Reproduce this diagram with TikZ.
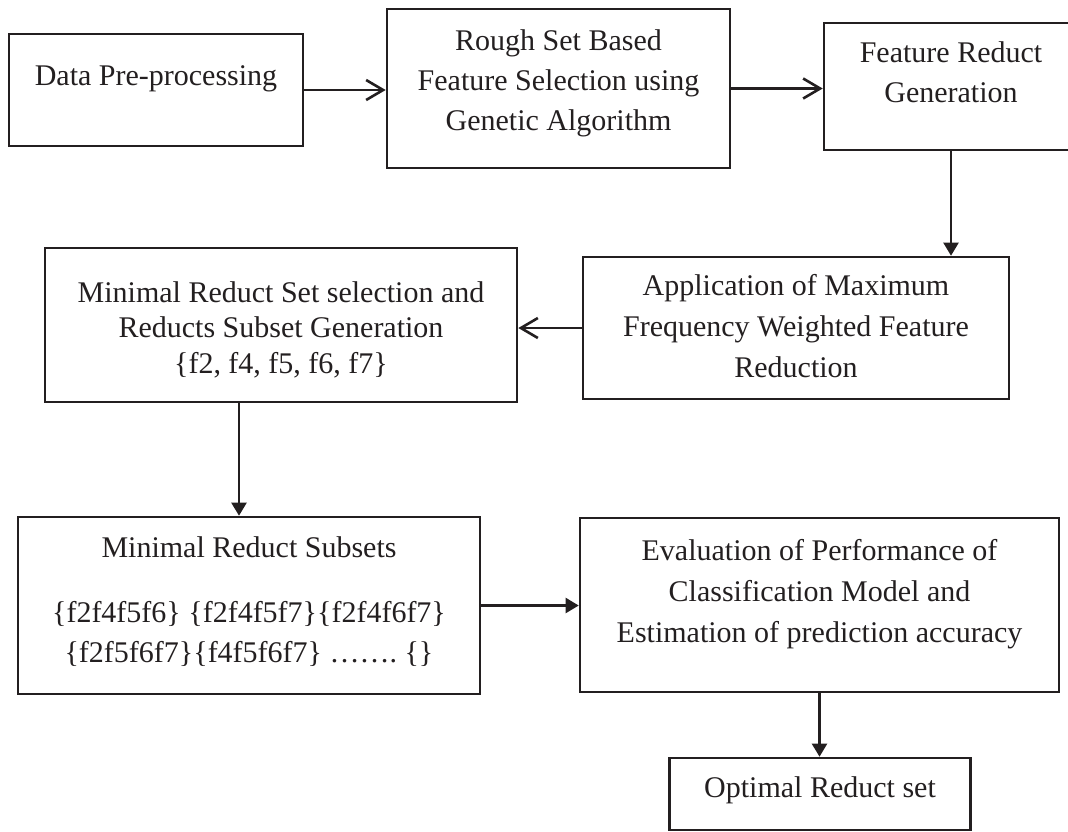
\documentclass[tikz,border=0pt]{standalone}
\usepackage{fontspec}
\setmainfont{Liberation Serif}
\usetikzlibrary{arrows.meta}
\definecolor{ink}{RGB}{35,31,32}

\begin{document}
\begin{tikzpicture}[x=0.5pt,y=-0.5pt, every node/.style={font=\fontsize{15}{20}\selectfont,align=center,text=ink},
  box/.style={draw=ink,line width=1.3pt,inner sep=0pt,text height=0pt,text depth=0pt},
  barb/.style={-{Straight Barb[length=8.5pt,width=10pt]},draw=ink,line width=1.3pt},
  link/.style={->,draw=ink,line width=1.1pt}, >={Triangle[length=6.5pt,width=7.5pt]}]
\useasboundingbox (0,0) rectangle (1068,831);
\node[box,minimum width=147pt,minimum height=56pt,text depth=5pt] (pre) at (156,90) {Data Pre-processing};
\node[box,minimum width=171.5pt,minimum height=79.5pt,text height=41.5pt] (ga) at (558.5,88.5) {Rough Set Based\\Feature Selection using\\Genetic Algorithm};
\node[box,minimum width=127pt,minimum height=63.5pt,text height=15.5pt] (red) at (951,86.5) {Feature Reduct\\Generation};
\node[box,minimum width=213pt,minimum height=71pt,text height=49pt] (mfw) at (796,328) {Application of Maximum\\[0.5pt]Frequency Weighted Feature\\[0.5pt]Reduction};
\node[box,minimum width=236pt,minimum height=77pt,text height=48pt,font=\fontsize{15}{17.75}\selectfont] (sel) at (281,325) {Minimal Reduct Set selection and\\Reducts Subset Generation\\\{f2, f4, f5, f6, f7\}};
\node[box,minimum width=231pt,minimum height=88.5pt,text height=56.5pt] (sub) at (249,605.5) {Minimal Reduct Subsets\\[12.5pt]\{f2f4f5f6\} \{f2f4f5f7\}\{f2f4f6f7\}\\\{f2f5f6f7\}\{f4f5f6f7\} …….\ \{\}};
\node[box,minimum width=239.5pt,minimum height=87pt,text height=37pt] (eval) at (819.5,605) {Evaluation of Performance of\\[0.5pt]Classification Model and\\[0.5pt]Estimation of prediction accuracy};
\node[box,minimum width=150.5pt,minimum height=36pt,text height=3pt] (opt) at (820,794) {Optimal Reduct set};
% connectors
\draw[barb] (pre.east) -- (pre.east -| ga.west);
\draw[barb] (ga.east) -- (ga.east -| red.west);
\draw[link] (red.south) -- (red.south |- mfw.north);
\draw[barb] (mfw.west) -- (mfw.west -| sel.east);
\draw[link] ([xshift=-21pt]sel.south) -- ([xshift=-21pt]sel.south |- sub.north);
\draw[link] (sub.east) -- (sub.east -| eval.west);
\draw[link] (eval.south) -- (eval.south |- opt.north);
\end{tikzpicture}
\end{document}
